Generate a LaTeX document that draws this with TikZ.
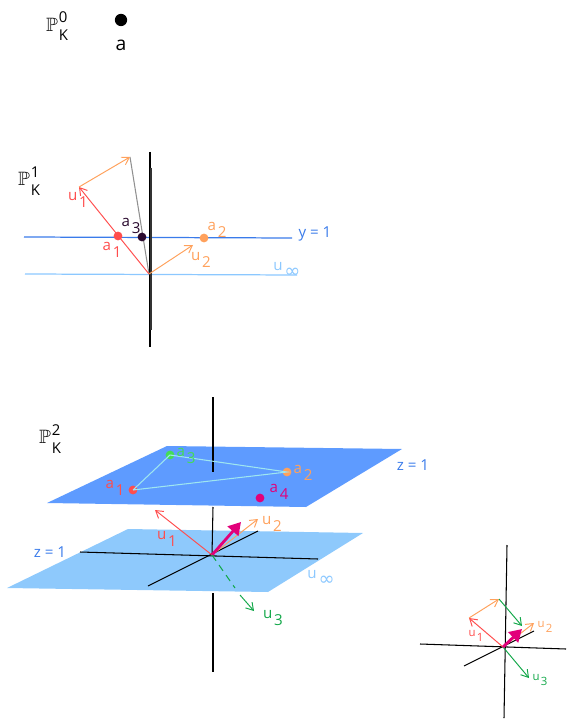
\documentclass[tikz,border=0pt]{standalone}
\usepackage{amssymb}
\usepackage{fontspec}
\setmainfont{Open Sans}
\newfontfamily\symfont{DejaVu Sans}
\usepackage{xcolor}
\usetikzlibrary{arrows.meta,positioning}
\definecolor{cRed}{HTML}{FF4D4D}
\definecolor{cOrange}{HTML}{FFA15C}
\definecolor{cGreen}{HTML}{13A84A}
\definecolor{cLime}{HTML}{44DD55}
\definecolor{cMagenta}{HTML}{E2007A}
\definecolor{cBlue}{HTML}{3A7BEA}
\definecolor{cSky}{HTML}{8CC8FF}
\definecolor{cPlaneTop}{HTML}{5E9BFF}
\definecolor{cPlaneLow}{HTML}{8EC9FC}
\definecolor{cCyan}{HTML}{9EE6F0}
\definecolor{cPlum}{HTML}{2A0A2E}
\definecolor{cGray}{HTML}{909090}
\newcommand{\lowix}[1]{\hspace{0.12em}\raisebox{-0.45em}{#1}}
\newcommand{\projsp}[1]{$\mathbb{P}$\hspace{0.5pt}\raisebox{-0.9ex}{\fontsize{8.5}{9}\selectfont\shortstack[l]{#1\\[1pt]K}}}
\tikzset{
  lab/.style={font=\fontsize{8.6}{10}\selectfont,text=#1,inner sep=1pt},
  lab/.default=black,
  slab/.style={font=\fontsize{6.5}{7}\selectfont,text=#1,inner sep=1pt},
  ptdot/.style={circle,fill=#1,inner sep=0pt,minimum size=3pt},
  vec/.style={-{Straight Barb[length=4pt,width=5pt]},line width=0.55pt,draw=#1},
  bigvec/.style={-{Triangle[length=7pt,width=8pt]},line width=1.6pt,draw=cMagenta},
  axis/.style={line width=0.6pt,draw=black},
  plane/.style={fill=#1,draw=none},
}

\begin{document}
\begin{tikzpicture}[x=0.02cm,y=-0.02cm]
  \useasboundingbox (0,0) rectangle (566,719);

  % P^0
  \node[font=\fontsize{11}{11}\selectfont] (P0) at (57,26) {\projsp{0}};
  \node[ptdot=black,minimum size=7pt] (a0) at (121,20) {};
  \node[lab,font=\fontsize{11}{12}\selectfont] (a0l) at (121,45) {a};

  % P^1
  \node[font=\fontsize{11}{11}\selectfont] (P1) at (29,181) {\projsp{1}};
  \coordinate (O1) at (149,274);
  \draw[cSky,line width=0.7pt] (25,274) -- (297,275);
  \draw[cBlue,line width=0.7pt] (24,237) -- (292,238);
  \draw[axis] (150,152) -- (150,347);
  \draw[line width=1.4pt,draw=black!80] (151,168) -- (151,330);
  \coordinate (u1) at (79,187);
  \coordinate (g1) at (130,157);
  \coordinate (u2) at (193,245);
  \draw[cGray,line width=0.6pt] (O1) -- (g1);
  \draw[vec=cRed] (O1) -- (u1);
  \draw[vec=cOrange] (u1) -- (g1);
  \draw[vec=cOrange] (O1) -- (u2);
  \node[ptdot=cRed,minimum size=5pt] (a1) at (118,236) {};
  \node[ptdot=cPlum,minimum size=5pt] (a3) at (142,237) {};
  \node[ptdot=cOrange,minimum size=5pt] (a2) at (204,238) {};
  \node[lab=cRed] (u1l) at (78,200) {u\lowix{1}};
  \node[lab=cRed] (a1l) at (112,250) {a\lowix{1}};
  \node[lab=cPlum] (a3l) at (131,226) {a\lowix{3}};
  \node[lab=cOrange] (a2l) at (217,230) {a\lowix{2}};
  \node[lab=cOrange] (u2l) at (201,260) {u\lowix{2}};
  \node[lab=cBlue] (y1) at (315,234) {y = 1};
  \node[lab=cSky] (uinf1) at (287,270) {u\lowix{\symfont\fontsize{11}{11}\selectfont ∞}};

  % P^2
  \node[font=\fontsize{11}{11}\selectfont] (P2) at (50,439) {\projsp{2}};
  \fill[plane=cPlaneTop] (167,446) -- (402,449) -- (306,507) -- (47,503) -- cycle;
  \draw[axis] (213,397) -- (213,472);
  \node[ptdot=cRed,minimum size=5pt] (b1) at (133,490) {};
  \node[ptdot=cLime,minimum size=5pt] (b3) at (170,455) {};
  \node[ptdot=cOrange,minimum size=5pt] (b2) at (287,472) {};
  \node[ptdot=cMagenta,minimum size=5pt] (b4) at (260,498) {};
  \draw[cCyan,line width=0.6pt] (b1.center) -- (b3.center) -- (b2.center) -- (b1.center);
  \node[lab=cRed] (b1l) at (115,488) {a\lowix{1}};
  \node[lab=cLime] (b3l) at (186,456) {a\lowix{3}};
  \node[lab=cOrange] (b2l) at (303,473) {a\lowix{2}};
  \node[lab=cMagenta] (b4l) at (279,492) {a\lowix{4}};
  \node[lab=cBlue] (z1a) at (413,465) {z = 1};

  \fill[plane=cPlaneLow] (128,529) -- (363,533) -- (268,592) -- (7,588) -- cycle;
  \coordinate (O2) at (212,555);
  \draw[axis] (80,552) -- (318,559);
  \draw[axis] (148,586) -- (258,531);
  \draw[axis] (213,507) -- (O2);
  \draw[axis] (213,593) -- (213,672);
  \coordinate (v1) at (155,510);
  \coordinate (v2) at (258,519);
  \coordinate (v4) at (241,522);
  \coordinate (v3a) at (235,588);
  \coordinate (v3b) at (240,595);
  \coordinate (v3) at (254,611);
  \draw[vec=cRed] (O2) -- (v1);
  \draw[vec=cOrange] (O2) -- (v2);
  \draw[bigvec] (O2) -- (v4);
  \draw[cGreen,line width=0.6pt,dash pattern=on 4pt off 3pt] (O2) -- (v3a);
  \draw[vec=cGreen] (v3b) -- (v3);
  \node[lab=cRed] (v1l) at (167,539) {u\lowix{1}};
  \node[lab=cOrange] (v2l) at (272,524) {u\lowix{2}};
  \node[lab=cGreen] (v3l) at (273,618) {u\lowix{3}};
  \node[lab=cBlue] (z1b) at (50,552) {z = 1};
  \node[lab=cSky] (uinf2) at (321,578) {u\lowix{\symfont\fontsize{11}{11}\selectfont ∞}};

  % small basis picture
  \coordinate (O3) at (503,647);
  \draw[axis] (507,545) -- (504,718);
  \draw[axis] (420,644) -- (566,649);
  \draw[axis] (464,666) -- (534,631);
  \coordinate (w1) at (469,618);
  \coordinate (w12) at (499,599);
  \coordinate (w2) at (534,623);
  \coordinate (w123) at (522,626);
  \coordinate (w3) at (529,678);
  \coordinate (w4) at (522,629);
  \draw[vec=cRed] (O3) -- (w1);
  \draw[vec=cOrange] (w1) -- (w12);
  \draw[vec=cGreen] (w12) -- (w123);
  \draw[vec=cOrange] (O3) -- (w2);
  \draw[vec=cGreen] (O3) -- (w3);
  \draw[bigvec] (O3) -- (w4);
  \node[slab=cRed] (w1l) at (476,636) {u\lowix{1}};
  \node[slab=cOrange] (w2l) at (545,627) {u\lowix{2}};
  \node[slab=cGreen] (w3l) at (540,680) {u\lowix{3}};
\end{tikzpicture}
\end{document}
